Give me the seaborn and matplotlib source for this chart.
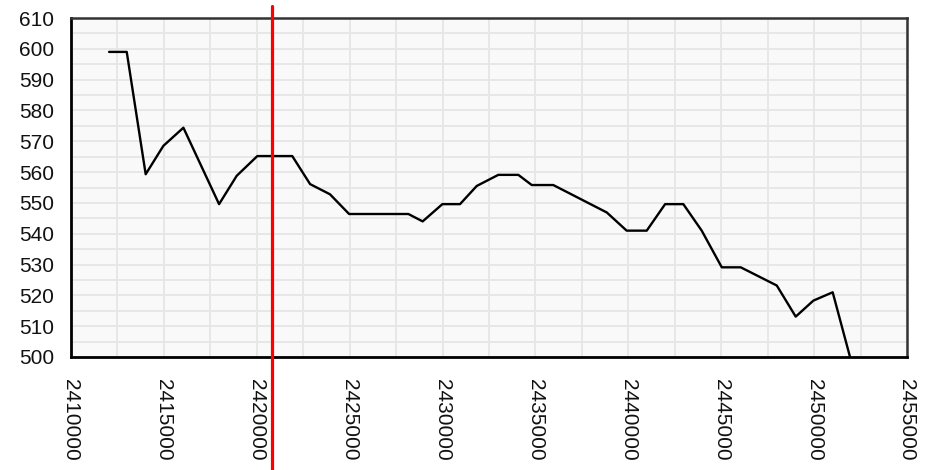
import matplotlib
matplotlib.use("Agg")
import matplotlib.pyplot as plt
from matplotlib.ticker import MultipleLocator, FuncFormatter
import seaborn as sns
import pandas as pd

# Julian day numbers and the measured values
jd = [2412050, 2413000, 2414020, 2414970, 2416050, 2417970, 2418920, 2420030,
      2421910, 2422870, 2423940, 2424970, 2428160, 2428930, 2429990, 2430940,
      2431840, 2433000, 2434080, 2434800, 2435960, 2438840, 2439910, 2440990,
      2441980, 2442960, 2443950, 2445030, 2446050, 2447990, 2449010, 2449960,
      2451000, 2452000]
value = [599.0, 599.0, 559.3, 568.5, 574.4, 549.6, 558.8, 565.2,
         565.2, 556.1, 552.8, 546.4, 546.4, 544.0, 549.6, 549.6,
         555.5, 559.1, 559.1, 555.8, 555.8, 546.9, 541.0, 541.0,
         549.6, 549.6, 541.0, 529.1, 529.1, 523.2, 513.1, 518.3,
         521.0, 498.5]

marker_jd = 2420800

df = pd.DataFrame({"jd": jd, "value": value})

sns.set_style("white")
plt.rcParams["font.family"] = ["Liberation Sans", "DejaVu Sans"]

fig = plt.figure(figsize=(9.26, 4.70), dpi=100)
ax = fig.add_axes([71 / 926, 1 - 357 / 470, 836 / 926, 339 / 470])
ax.set_facecolor("#f9f9f9")

sns.lineplot(data=df, x="jd", y="value", ax=ax, color="black",
             linewidth=1.7, zorder=3)

ax.set_xlim(2410000, 2455000)
ax.set_ylim(500, 610)
ax.xaxis.set_major_locator(MultipleLocator(5000))
ax.xaxis.set_minor_locator(MultipleLocator(2500))
ax.yaxis.set_major_locator(MultipleLocator(10))
ax.yaxis.set_minor_locator(MultipleLocator(5))
ax.xaxis.set_major_formatter(FuncFormatter(lambda v, p: f"{int(round(v))}"))
ax.yaxis.set_major_formatter(FuncFormatter(lambda v, p: f"{int(round(v))}"))

ax.grid(True, which="both", color="#e6e6e6", linewidth=1.3, zorder=0)
ax.set_axisbelow(True)

ax.tick_params(axis="both", which="major", direction="in", length=7,
               width=1.8, color="black", top=False, right=False)
ax.tick_params(axis="both", which="minor", direction="in", length=5,
               width=1.8, color="black", top=False, right=False)
ax.tick_params(axis="y", which="major", labelsize=15, pad=12,
               labelcolor="#111111")
ax.tick_params(axis="x", which="major", labelsize=15, pad=16,
               labelrotation=-90, labelcolor="#111111")
for lbl in ax.get_xticklabels():
    lbl.set_verticalalignment("top")

for side in ["left", "bottom"]:
    ax.spines[side].set_color("black")
    ax.spines[side].set_linewidth(2.0)
for side in ["top", "right"]:
    ax.spines[side].set_color("#333333")
    ax.spines[side].set_linewidth(1.8)

ax.set_xlabel("")
ax.set_ylabel("")

ax.axvline(marker_jd, ymin=-0.335, ymax=1.035, color="red", linewidth=2.3,
           clip_on=False, zorder=5)

fig.savefig("out.png", dpi=100)
